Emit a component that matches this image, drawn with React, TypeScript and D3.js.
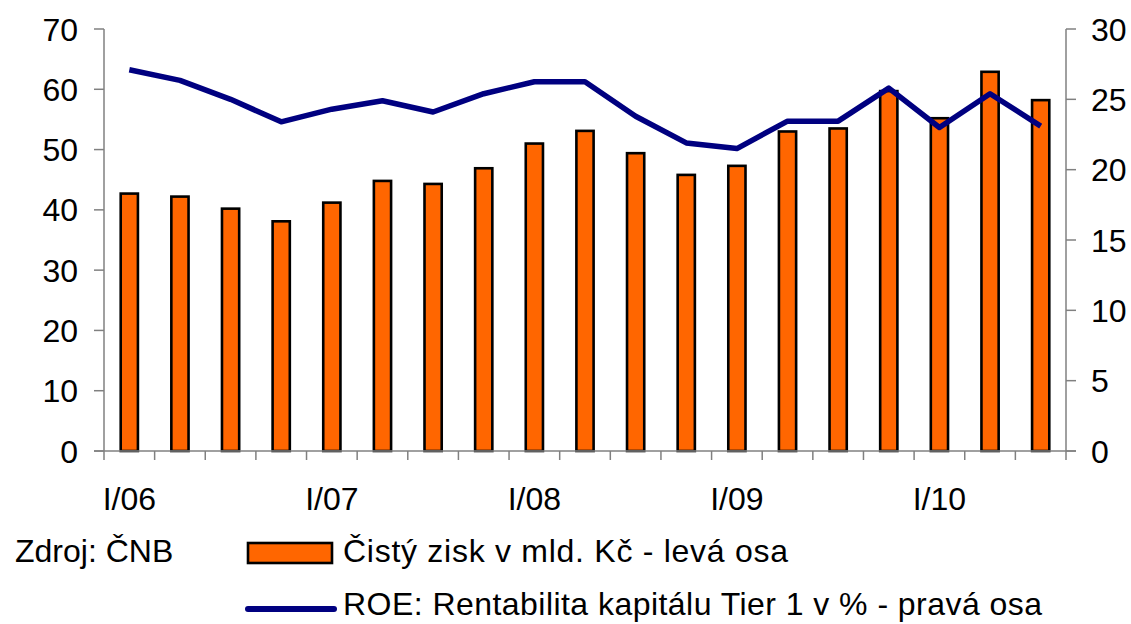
import React from "react";
import * as d3 from "d3";

const categories = [
  "I/06", "II/06", "III/06", "IV/06",
  "I/07", "II/07", "III/07", "IV/07",
  "I/08", "II/08", "III/08", "IV/08",
  "I/09", "II/09", "III/09", "IV/09",
  "I/10", "II/10", "III/10",
];
const profit = [42.7, 42.2, 40.2, 38.1, 41.2, 44.8, 44.3, 46.9, 51.0, 53.1, 49.4, 45.8, 47.3, 53.0, 53.5, 59.7, 55.2, 62.9, 58.2];
const roe = [27.1, 26.35, 25.0, 23.4, 24.3, 24.9, 24.1, 25.4, 26.25, 26.25, 23.8, 21.9, 21.5, 23.45, 23.45, 25.8, 23.0, 25.4, 23.1];
const leftTicks = [0, 10, 20, 30, 40, 50, 60, 70];
const rightTicks = [0, 5, 10, 15, 20, 25, 30];
const xLabels = ["I/06", "I/07", "I/08", "I/09", "I/10"];
const source = "Zdroj: ČNB";
const legendBar = "Čistý zisk v mld. Kč - levá osa";
const legendLine = "ROE: Rentabilita kapitálu Tier 1 v % - pravá osa";

const W = 1131, H = 624;
const left = 104, right = 1066, top = 29, bottom = 451;
const FONT = "'Liberation Sans', Arial, sans-serif";
const AXIS = "#808080";

export default function App() {
  const x = d3.scaleBand<string>().domain(categories).range([left, right]).paddingInner(0).paddingOuter(0);
  const yL = d3.scaleLinear().domain([0, 70]).range([bottom, top]);
  const yR = d3.scaleLinear().domain([0, 30]).range([bottom, top]);
  const bw = x.bandwidth() * 0.34;
  const line = d3.line<number>()
    .x((_, i) => (x(categories[i]) as number) + x.bandwidth() / 2)
    .y((d) => yR(d));
  const boundaries = categories.map((c) => x(c) as number).concat([right]);

  return (
    <svg width={W} height={H} style={{ position: "absolute", left: 0, top: 0, background: "#fff" }} fontFamily={FONT}>
      {/* bars */}
      {profit.map((v, i) => (
        <rect key={i}
          x={(x(categories[i]) as number) + x.bandwidth() / 2 - bw / 2}
          y={yL(v)}
          width={bw}
          height={yL(0) - yL(v)}
          fill="#FF6600" stroke="#000" strokeWidth={2.6} />
      ))}
      {/* axes */}
      <line x1={left} x2={left} y1={top} y2={bottom} stroke={AXIS} strokeWidth={1.5} />
      <line x1={right} x2={right} y1={top} y2={bottom} stroke={AXIS} strokeWidth={1.5} />
      <line x1={left - 10} x2={right + 10} y1={bottom} y2={bottom} stroke={AXIS} strokeWidth={1.5} />
      {leftTicks.map((t) => (
        <g key={"l" + t}>
          <line x1={left - 10} x2={left} y1={yL(t)} y2={yL(t)} stroke={AXIS} strokeWidth={1.5} />
          <text x={78} y={yL(t)} dy="0.36em" textAnchor="end" fontSize={32} fill="#000">{t}</text>
        </g>
      ))}
      {rightTicks.map((t) => (
        <g key={"r" + t}>
          <line x1={right} x2={right + 10} y1={yR(t)} y2={yR(t)} stroke={AXIS} strokeWidth={1.5} />
          <text x={1091} y={yR(t)} dy="0.36em" textAnchor="start" fontSize={32} fill="#000">{t}</text>
        </g>
      ))}
      {boundaries.map((b, i) => (
        <line key={"xt" + i} x1={b} x2={b} y1={bottom} y2={bottom + 9} stroke={AXIS} strokeWidth={1.5} />
      ))}
      {xLabels.map((l) => (
        <text key={l} x={(x(l) as number) + x.bandwidth() / 2} y={510} textAnchor="middle" fontSize={32} fill="#000">{l}</text>
      ))}
      {/* line */}
      <path d={line(roe) || ""} fill="none" stroke="#000080" strokeWidth={5.5} strokeLinejoin="round" />
      {/* legend */}
      <text x={15} y={562} fontSize={32} fill="#000">{source}</text>
      <rect x={248} y={543} width={84} height={20} fill="#FF6600" stroke="#000" strokeWidth={2.6} />
      <text x={343} y={562} fontSize={32} fill="#000" textLength={445} lengthAdjust="spacing">{legendBar}</text>
      <line x1={248} x2={334} y1={609} y2={609} stroke="#000080" strokeWidth={6} strokeLinecap="round" />
      <text x={343} y={615} fontSize={32} fill="#000" textLength={699} lengthAdjust="spacing">{legendLine}</text>
    </svg>
  );
}
